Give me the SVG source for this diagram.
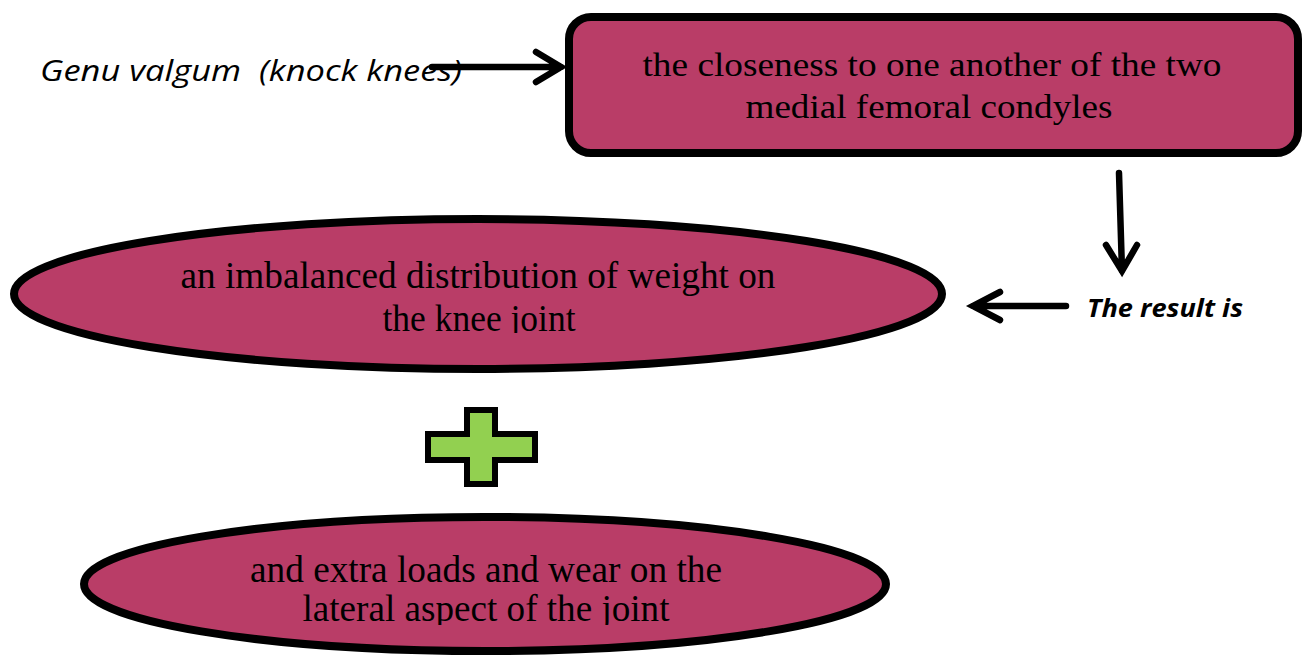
<svg xmlns="http://www.w3.org/2000/svg" width="1305" height="657" viewBox="0 0 1305 657">
<style>
.node{fill:#B93D67;stroke:#000;stroke-width:8}
.t{font-family:"Liberation Serif",serif;font-size:34px;fill:#000;text-anchor:middle}
.e{font-size:38px}
.conn{stroke:#000;stroke-width:6.5;fill:none;stroke-linecap:round;stroke-linejoin:miter}
.lbl{font-family:"Open Sans","Liberation Sans",sans-serif;font-style:italic;fill:#000}
</style>
<defs>
<clipPath id="c1"><rect x="0" y="200" width="960" height="133"/></clipPath>
<clipPath id="c2"><rect x="0" y="500" width="960" height="125"/></clipPath>
</defs>
<rect width="1305" height="657" fill="#fff"/>
<g id="label-genu">
<text class="lbl" x="40" y="81" font-size="30" textLength="422" lengthAdjust="spacingAndGlyphs" xml:space="preserve">Genu valgum  (knock knees)</text>
</g>
<g id="node-closeness">
<rect class="node" x="569" y="17" width="729" height="136" rx="22"/>
<text class="t" x="932" y="76" textLength="579" lengthAdjust="spacingAndGlyphs">the closeness to one another of the two</text>
<text class="t" x="929" y="118" textLength="367" lengthAdjust="spacingAndGlyphs">medial femoral condyles</text>
</g>
<g id="label-result">
<text class="lbl" x="1087" y="317" font-size="25" font-weight="bold" textLength="156" lengthAdjust="spacingAndGlyphs">The result is</text>
</g>
<g id="node-imbalanced">
<ellipse class="node" cx="478" cy="294" rx="464" ry="75"/>
<g clip-path="url(#c1)">
<text class="t e" x="478" y="288" textLength="595" lengthAdjust="spacingAndGlyphs">an imbalanced distribution of weight on</text>
<text class="t e" x="479" y="331" textLength="193" lengthAdjust="spacingAndGlyphs">the knee joint</text>
</g>
</g>
<g id="plus">
<polygon points="467,410 495,410 495,434 535,434 535,460 495,460 495,484 467,484 467,460 428,460 428,434 467,434" fill="#92D050" stroke="#000" stroke-width="6"/>
</g>
<g id="node-extra">
<ellipse class="node" cx="485" cy="584" rx="401" ry="67"/>
<g clip-path="url(#c2)">
<text class="t e" x="486" y="582" textLength="472" lengthAdjust="spacingAndGlyphs">and extra loads and wear on the</text>
<text class="t e" x="486" y="621" textLength="367" lengthAdjust="spacingAndGlyphs">lateral aspect of the joint</text>
</g>
</g>
<g id="connectors">
<path class="conn" d="M432,67 L561,67 M536,52 L561,67 L536,82"/>
<path class="conn" d="M1119,173 L1122,271 M1106,245 L1122,271 L1137,245"/>
<path class="conn" d="M1066,306 L973,306 M1000,292 L973,306 L1000,320"/>
</g>
</svg>
